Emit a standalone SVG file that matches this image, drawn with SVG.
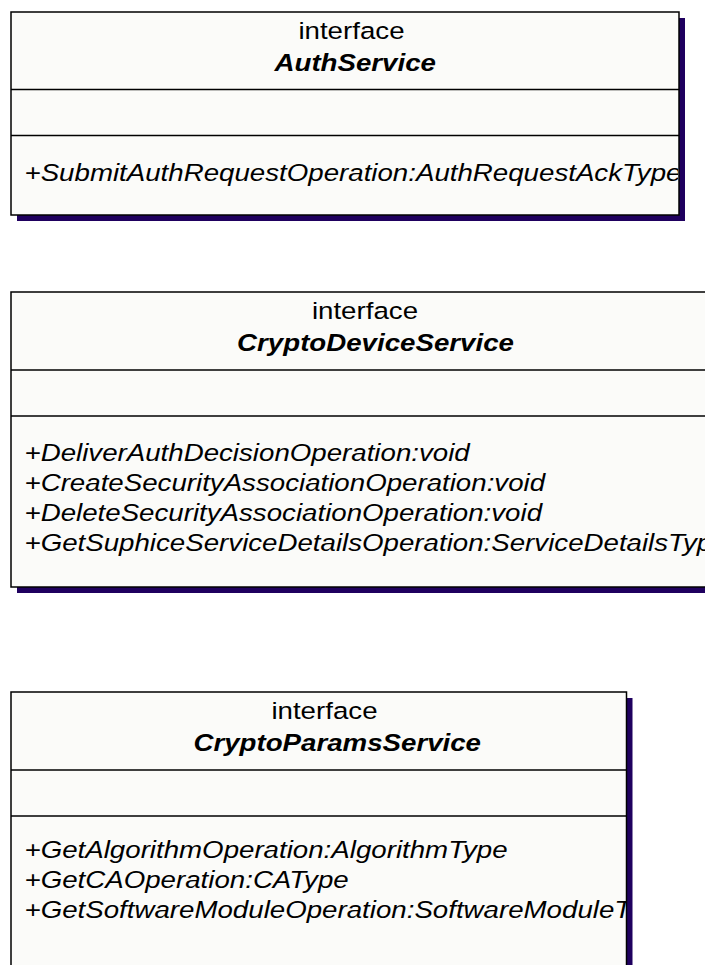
<svg xmlns="http://www.w3.org/2000/svg" width="705" height="965" viewBox="0 0 705 965">
<style>
.shadow{fill:#1F005F;}
.box{fill:#FBFBF9;stroke:#000;stroke-width:1.5;}
.div{stroke:#000;stroke-width:1.5;fill:none;}
text{font-family:"Liberation Sans",Arial,sans-serif;font-size:24.5px;fill:#000;}
.name{font-weight:bold;font-style:italic;}
.op{font-style:italic;}
</style>
<defs>
<clipPath id="c1"><rect x="11" y="12" width="667" height="203"/></clipPath>
<clipPath id="c2"><rect x="11" y="292" width="708" height="295"/></clipPath>
<clipPath id="c3"><rect x="11" y="692" width="615" height="300"/></clipPath>
</defs>
<g id="AuthService">
<rect class="shadow" x="17" y="18" width="668" height="203"/>
<rect class="box" x="11" y="12" width="668" height="203"/>
<line class="div" x1="11" y1="89.5" x2="679" y2="89.5"/>
<line class="div" x1="11" y1="135.5" x2="679" y2="135.5"/>
<g clip-path="url(#c1)">
<text transform="translate(298.4,39) scale(1.13,1)">interface</text>
<text class="name" transform="translate(274.5,71) scale(1.13,1)">AuthService</text>
<text class="op" transform="translate(24.5,180.5) scale(1.13,1)">+SubmitAuthRequestOperation:AuthRequestAckType</text>
</g>
</g>
<g id="CryptoDeviceService">
<rect class="shadow" x="17" y="298" width="708" height="295"/>
<rect class="box" x="11" y="292" width="708" height="295"/>
<line class="div" x1="11" y1="370" x2="719" y2="370"/>
<line class="div" x1="11" y1="416" x2="719" y2="416"/>
<g clip-path="url(#c2)">
<text transform="translate(311.9,319) scale(1.13,1)">interface</text>
<text class="name" transform="translate(237.1,351) scale(1.13,1)">CryptoDeviceService</text>
<text class="op" transform="translate(24.5,461) scale(1.13,1)">+DeliverAuthDecisionOperation:void</text>
<text class="op" transform="translate(24.5,491) scale(1.13,1)">+CreateSecurityAssociationOperation:void</text>
<text class="op" transform="translate(24.5,521) scale(1.13,1)">+DeleteSecurityAssociationOperation:void</text>
<text class="op" transform="translate(24.5,551) scale(1.13,1)">+GetSuphiceServiceDetailsOperation:ServiceDetailsType</text>
</g>
</g>
<g id="CryptoParamsService">
<rect class="shadow" x="17" y="698" width="615.5" height="300"/>
<rect class="box" x="11" y="692" width="615.5" height="300"/>
<line class="div" x1="11" y1="770" x2="626.5" y2="770"/>
<line class="div" x1="11" y1="816" x2="626.5" y2="816"/>
<g clip-path="url(#c3)">
<text transform="translate(271.4,719) scale(1.13,1)">interface</text>
<text class="name" transform="translate(193.4,751) scale(1.13,1)">CryptoParamsService</text>
<text class="op" transform="translate(24.5,858) scale(1.13,1)">+GetAlgorithmOperation:AlgorithmType</text>
<text class="op" transform="translate(24.5,888) scale(1.13,1)">+GetCAOperation:CAType</text>
<text class="op" transform="translate(24.5,918) scale(1.13,1)">+GetSoftwareModuleOperation:SoftwareModuleType</text>
</g>
</g>
<g id="connectors"/>
</svg>
